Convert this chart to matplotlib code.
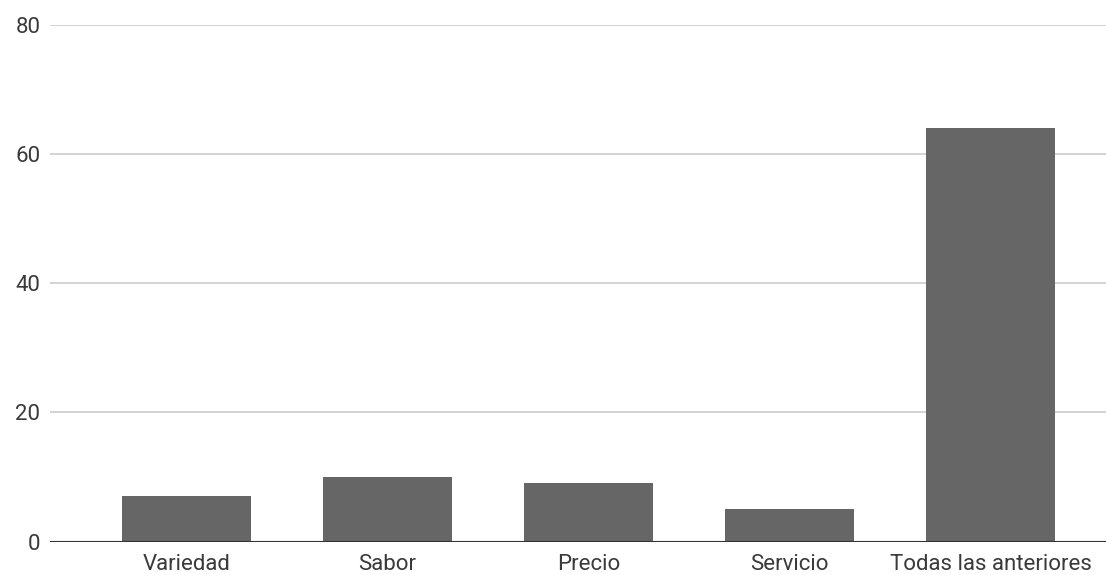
import matplotlib.pyplot as plt

categorias = ["Variedad", "Sabor", "Precio", "Servicio", "Todas las anteriores"]
valores = [7, 10, 9, 5, 64]
y_ticks = [0, 20, 40, 60, 80]

plt.rcParams['font.family'] = ['Roboto', 'DejaVu Sans']

fig = plt.figure(figsize=(11.06, 5.75), dpi=100)
ax = fig.add_axes([50 / 1106, (575 - 541.5) / 575, 1056 / 1106, (541.5 - 25) / 575])

x = range(len(categorias))
ax.bar(x, valores, width=0.64, color="#666666", zorder=3)

ax.set_xlim(-0.68, 4.575)
ax.set_ylim(0, 80)
ax.set_yticks(y_ticks)
ax.set_xticks(list(x))
ax.set_xticklabels(categorias)

ax.grid(axis="y", color="#cccccc", linewidth=1.2, zorder=0)
ax.axhline(0, color="#333333", linewidth=1.5, zorder=4)
for s in ax.spines.values():
    s.set_visible(False)
ax.tick_params(axis="both", length=0, labelsize=16, colors="#3a3a3a")
ax.tick_params(axis="y", pad=7)
ax.tick_params(axis="x", pad=9)

fig.savefig("out.png", dpi=100)
